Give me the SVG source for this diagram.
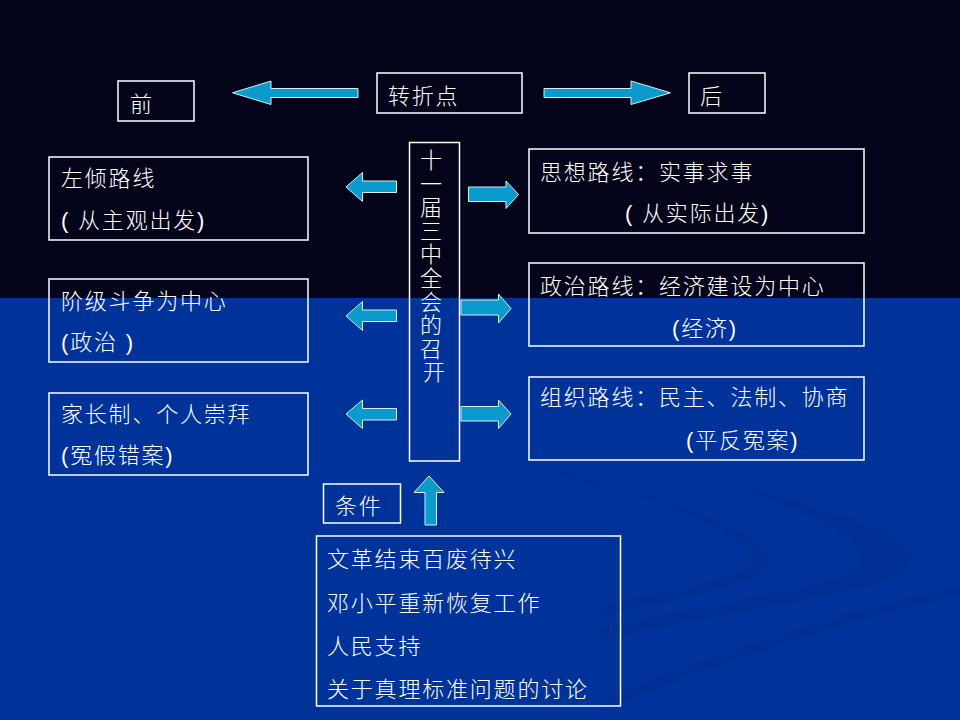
<svg xmlns="http://www.w3.org/2000/svg" width="960" height="720" viewBox="0 0 960 720">
<defs>
<style>
.bx{fill:none;stroke:#ffffff;stroke-width:1.5}
.t{font-family:"Liberation Sans","Noto Sans CJK SC",sans-serif;font-size:22px;font-weight:300;fill:#ffffff;letter-spacing:1.8px}
.ar{fill:#0a9acb;stroke:#d6eef6;stroke-width:1}
.sw{fill:#002f8f;opacity:0.6}
</style>
</defs>
<rect x="0" y="0" width="960" height="298" fill="#03041a"/>
<rect x="0" y="298" width="960" height="422" fill="#003399"/>
<g id="swooshes">
<path class="sw" d="M700,470 C800,510 900,520 910,555 C920,590 780,600 600,640 L600,628 C760,592 870,585 860,555 C850,525 780,505 700,470 Z"/>
<path class="sw" d="M600,482 C680,505 760,530 770,557 C776,580 700,595 600,615 L600,605 C690,588 755,575 752,558 C748,535 680,510 600,482 Z"/>
<path class="sw" d="M600,700 C720,650 850,610 960,585 L960,595 C850,620 720,660 600,712 Z"/>
<path class="sw" d="M545,465 C560,470 580,478 600,482 L600,486 C580,482 560,474 545,465 Z"/>
</g>
<g id="connectors">
<path id="arrow-prev" class="ar" d="M358,88.5 L271,88.5 L271,81 L232.5,92.8 L271,104.5 L271,97.5 L358,97.5 Z"/>
<path id="arrow-next" class="ar" d="M544,88.5 L631,88.5 L631,81 L670.5,92.8 L631,104.5 L631,97.5 L544,97.5 Z"/>
<path class="ar" d="M396.5,181 L362.5,181 L362.5,172.5 L346,187 L362.5,201.5 L362.5,192.5 L396.5,192.5 Z"/>
<path class="ar" d="M396.5,310 L362.5,310 L362.5,301.5 L346,316 L362.5,330.5 L362.5,321.5 L396.5,321.5 Z"/>
<path class="ar" d="M396.5,408.5 L362.5,408.5 L362.5,400 L346,414 L362.5,428.5 L362.5,420 L396.5,420 Z"/>
<path class="ar" d="M468.5,187 L506,187 L506,181 L518.5,194.5 L506,208.5 L506,201.5 L468.5,201.5 Z"/>
<path class="ar" d="M461,300 L498.5,300 L498.5,294 L511,308.5 L498.5,323 L498.5,315 L461,315 Z"/>
<path class="ar" d="M461,406.5 L498.5,406.5 L498.5,400 L511,414 L498.5,428.5 L498.5,421 L461,421 Z"/>
<path id="arrow-up" class="ar" d="M425,525 L425,492.5 L414,492.5 L429,476 L444,492.5 L436.5,492.5 L436.5,525 Z"/>
</g>
<g id="node-before">
<rect class="bx" x="118" y="81" width="76" height="40"/>
<text class="t" x="130" y="112">前</text>
</g>
<g id="node-turning">
<rect class="bx" x="377" y="73" width="145" height="40"/>
<text class="t" x="388" y="104">转折点</text>
</g>
<g id="node-after">
<rect class="bx" x="689" y="73" width="76" height="40"/>
<text class="t" x="700" y="104">后</text>
</g>
<g id="node-left1">
<rect class="bx" x="49" y="157" width="259" height="83"/>
<text class="t" x="61" y="186">左倾路线</text>
<text class="t" x="61" y="228">( 从主观出发)</text>
</g>
<g id="node-left2">
<rect class="bx" x="49" y="279" width="259" height="83"/>
<text class="t" x="61" y="309">阶级斗争为中心</text>
<text class="t" x="61" y="350">(政治 )</text>
</g>
<g id="node-left3">
<rect class="bx" x="49" y="393" width="259" height="82"/>
<text class="t" x="61" y="422">家长制、个人崇拜</text>
<text class="t" x="61" y="463">(冤假错案)</text>
</g>
<g id="node-center">
<rect class="bx" x="409.5" y="142.5" width="50" height="318.5"/>
<text class="t" text-anchor="middle" style="letter-spacing:0">
<tspan x="434" y="168">十</tspan>
<tspan x="434" dy="23.6">一</tspan>
<tspan x="434" dy="23.6">届</tspan>
<tspan x="434" dy="23.6">三</tspan>
<tspan x="434" dy="23.6">中</tspan>
<tspan x="434" dy="23.6">全</tspan>
<tspan x="434" dy="23.6">会</tspan>
<tspan x="434" dy="23.6">的</tspan>
<tspan x="434" dy="23.6">召</tspan>
<tspan x="434" dy="23.6">开</tspan>
</text>
</g>
<g id="node-right1">
<rect class="bx" x="529" y="149" width="335" height="84"/>
<text class="t" x="540" y="180">思想路线：实事求事</text>
<text class="t" x="625" y="221">( 从实际出发)</text>
</g>
<g id="node-right2">
<rect class="bx" x="529" y="263" width="335" height="83"/>
<text class="t" x="540" y="294">政治路线：经济建设为中心</text>
<text class="t" x="672" y="336">(经济)</text>
</g>
<g id="node-right3">
<rect class="bx" x="529" y="377" width="335" height="83"/>
<text class="t" x="540" y="405">组织路线：民主、法制、协商</text>
<text class="t" x="686" y="448">(平反冤案)</text>
</g>
<g id="node-condition">
<rect class="bx" x="323.5" y="484" width="77" height="39"/>
<text class="t" x="335" y="514">条件</text>
</g>
<g id="node-conditions-list">
<rect class="bx" x="316.5" y="536" width="304" height="170"/>
<text class="t" x="327" y="567">文革结束百废待兴</text>
<text class="t" x="327" y="611">邓小平重新恢复工作</text>
<text class="t" x="327" y="654">人民支持</text>
<text class="t" x="327" y="697">关于真理标准问题的讨论</text>
</g>
</svg>
